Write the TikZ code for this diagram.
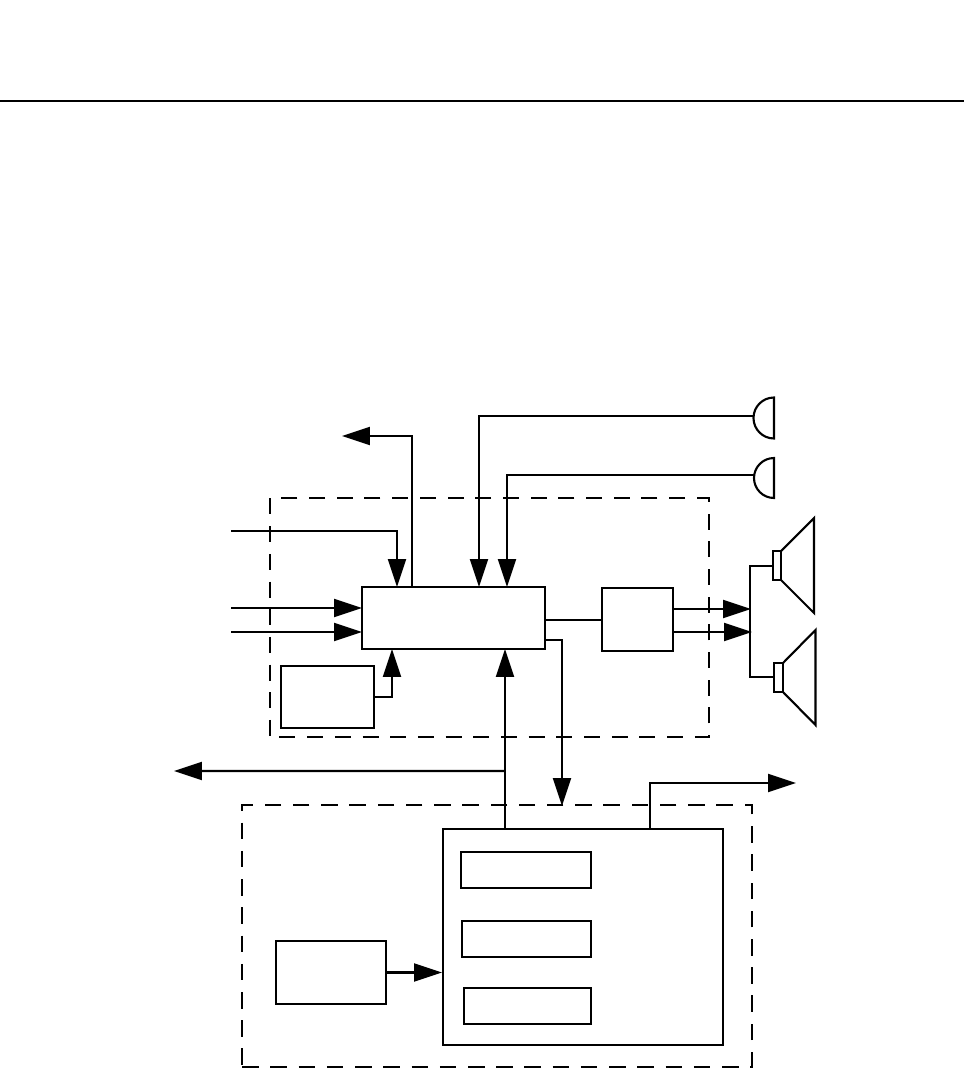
\documentclass[tikz,border=0pt]{standalone}
\usepackage{tikz}
\usetikzlibrary{positioning,calc,arrows.meta}

\begin{document}
\begin{tikzpicture}[x=0.02cm, y=-0.02cm, line width=1.2pt, >={Triangle[length=0.56cm, width=0.36cm]}, main/.style = {rectangle, draw, fill=none, outer sep=0pt, inner sep=0pt}, dashbox/.style = {main, dash pattern=on 0.32cm off 0.234cm}]

\useasboundingbox (0,0) rectangle (965,1069);

\coordinate (ruleL) at (0,101.2);
\coordinate (ruleR) at (964,101.2);
\draw (ruleL) -- (ruleR);

% dashed groups
\node[dashbox, dash phase=0.366cm, minimum width=8.78cm, minimum height=4.78cm] (upper) at (489.5,617.5) {};
\node[dashbox, dash pattern=on 0.33cm off 0.235cm, minimum width=10.2cm, minimum height=5.24cm] (lower) at (497,936) {};

% upper blocks
\node[main, minimum width=3.66cm, minimum height=1.24cm] (proc) at (453.5,618) {};
\node[main, minimum width=1.86cm, minimum height=1.24cm] (clock) at (327.5,697) {};
\node[main, minimum width=1.42cm, minimum height=1.26cm] (amp) at (637.5,619.5) {};

% lower blocks
\node[main, minimum width=2.2cm, minimum height=1.26cm] (source) at (331,972.5) {};
\node[main, minimum width=5.6cm, minimum height=4.32cm] (store) at (583,937) {};
\node[main, minimum width=2.6cm, minimum height=0.72cm] (s1) at (526,870) {};
\node[main, minimum width=2.58cm, minimum height=0.72cm] (s2) at (526.5,939) {};
\node[main, minimum width=2.54cm, minimum height=0.72cm] (s3) at (527.5,1006) {};

% free ends
\coordinate (in1) at (231,531);
\coordinate (in2) at (231,608);
\coordinate (in3) at (231,632);
\coordinate (outA) at (342,436);
\coordinate (outB) at (174,771);
\coordinate (outC) at (796,783);
\coordinate (busIn) at (562,806);
\coordinate (mic1) at (754,416);
\coordinate (mic2) at (754,475);
\coordinate (spkA) at (751,609);
\coordinate (spkB) at (752,632);
\coordinate (spk1) at (773,566);
\coordinate (spk2) at (774,677);
\coordinate (joint) at ($(proc.south west)+(143,122)$);

% into and out of proc
\draw[->] (in1) -| ($(proc.north west)+(35,0)$);
\draw[->] (in2) -- (in2 -| proc.west);
\draw[->] (in3) -- (in3 -| proc.west);
\draw[->] ($(proc.north west)+(50,0)$) |- (outA);
\draw[->] (mic1) -| ($(proc.north west)+(117,0)$);
\draw[->] (mic2) -| ($(proc.north west)+(145,0)$);
\draw[->] (clock.east) -| ($(proc.south west)+(30,0)$);
\draw[->] (joint |- store.north) -- ($(proc.south west)+(143,0)$);
\draw[->] (joint) -- (outB);
\draw[->] ($(proc.north east)+(0,53)$) -| (busIn);
\draw ($(proc.north east)+(0,33)$) -- (amp.west |- {$(proc.north east)+(0,33)$});
\draw[->] (amp.east |- spkA) -- (spkA);
\draw[->] (amp.east |- spkB) -- (spkB);

% lower connections
\draw[->] (source.east) -- ($(store.west |- source.east)+(-1,0)$);
\draw[->] ($(store.north west)+(207,0)$) |- (outC);

% speaker bus
\draw (spk1) -| (750,677) -- (spk2);

% microphones
\draw (774,397.5) arc (-90:-270:20.5) -- cycle;
\draw (774,458) arc (-90:-270:20) -- cycle;

% speakers
\node[main, minimum width=0.16cm, minimum height=0.58cm] (cone1) at (777,565.5) {};
\draw (cone1.north east) -- (814,518) -- (814,613) -- (cone1.south east);
\node[main, minimum width=0.18cm, minimum height=0.58cm] (cone2) at (778.5,677.5) {};
\draw (cone2.north east) -- (815.5,630) -- (815.5,725) -- (cone2.south east);

\end{tikzpicture}
\end{document}
